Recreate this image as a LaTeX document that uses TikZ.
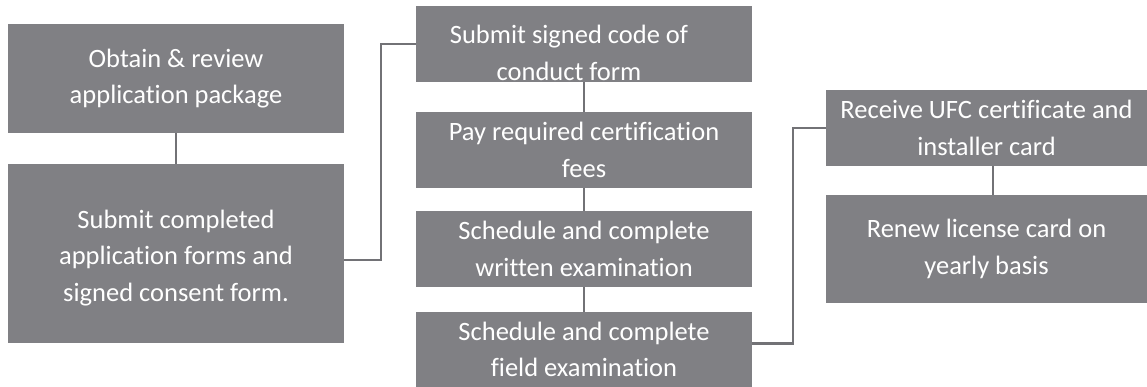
\documentclass[tikz,border=0pt]{standalone}
\usepackage{fontspec}
\setmainfont[Ligatures=NoCommon]{Carlito}
\usepackage{tikz}
\usetikzlibrary{calc}
\definecolor{boxgray}{HTML}{808084}
\definecolor{linegray}{HTML}{727276}
\tikzset{stepbox/.style={rectangle,fill=boxgray,text=white,align=center,inner sep=0pt,
  font=\fontsize{26.5}{36.5}\selectfont}}
\tikzset{boxtext/.style={text=white,align=center,inner sep=0pt,font=\fontsize{26.5}{36.5}\selectfont}}
\tikzset{link/.style={draw=linegray,line width=2.5pt}}
\tikzset{every picture/.append style={x=1pt,y=-1pt}}

\begin{document}
\begin{tikzpicture}
\useasboundingbox (0,0) rectangle (1147,387);
\node (obtain) at (176,78.5)[stepbox,minimum width=336pt,minimum height=109pt]{Obtain \& review\\application package};
\node (submit) at (176,253.5)[stepbox,minimum width=336pt,minimum height=179pt]{};
\node (submittext) at (176,258)[boxtext]{Submit completed\\application forms and\\signed consent form.};
\node (conduct) at (584,44)[stepbox,minimum width=336pt,minimum height=76pt]{};
\node (conducttext) at (569,53)[boxtext]{Submit signed code of\\conduct form};
\node (fees) at (584,150)[stepbox,minimum width=336pt,minimum height=76pt]{Pay required certification\\fees};
\node (written) at (584,249)[stepbox,minimum width=336pt,minimum height=76pt]{Schedule and complete\\written examination};
\node (field) at (584,349.5)[stepbox,minimum width=336pt,minimum height=75pt]{Schedule and complete\\field examination};
\node (receive) at (986.5,128)[stepbox,minimum width=321pt,minimum height=76pt]{Receive UFC certificate and\\installer card};
\node (renew) at (986.5,249)[stepbox,minimum width=321pt,minimum height=108pt]{Renew license card on\\yearly basis};

\draw[link] (obtain) -- (submit);
\draw[link] (conduct) -- (fees);
\draw[link] (fees) -- (written);
\draw[link] (written) -- (field);
\draw[link] ($(receive.south)+(6.5,0)$) -- ($(renew.north)+(6.5,0)$);
\draw[link] ($(submit.east)+(0,6.5)$) -- ++(37,0) |- (conduct.west);
\draw[link] ($(field.east)+(0,-6)$) -- ++(41,0) |- (receive.west);
\end{tikzpicture}
\end{document}
